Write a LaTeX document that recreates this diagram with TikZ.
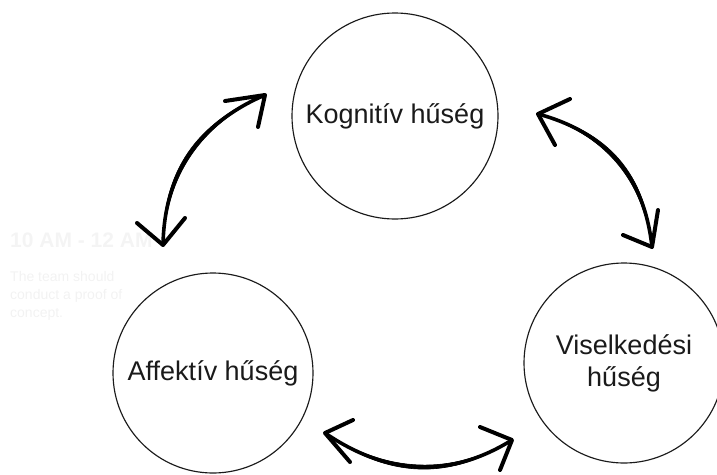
\documentclass[tikz,border=0pt]{standalone}
\usepackage{fontspec}
\setmainfont{Liberation Sans}
\definecolor{ink}{HTML}{1A1A1A}
\definecolor{ghost}{HTML}{F4F4F4}
\definecolor{ghostb}{HTML}{F2F2F2}
\begin{document}
\begin{tikzpicture}[x=1pt,y=-1pt,
  bubble/.style={circle,draw=ink,line width=1.15pt,text=ink,inner sep=0pt,
    font=\fontsize{27}{32}\selectfont,align=center},
  shaft/.style={fill=black,draw=black,line width=0.6pt,line join=round},
  spine/.style={draw=black,line width=3.6pt,line cap=round},
  headstroke/.style={draw=black,line width=4pt,line cap=round,line join=round},
  ghosthead/.style={text=ghost,font=\bfseries\fontsize{21}{25}\selectfont,anchor=base west,inner sep=0pt},
  ghostbody/.style={text=ghostb,font=\fontsize{14}{18}\selectfont,anchor=base west,inner sep=0pt}]
\useasboundingbox (0,0) rectangle (717,474);

% faint background texts
\node[ghosthead] (gh) at (10,247) {10 AM - 12 AM};
\node[ghostbody] (gb1) at (10,281) {The team should};
\node[ghostbody] (gb2) at (10,299) {conduct a proof of};
\node[ghostbody] (gb3) at (10,317) {concept.};

% circles
\node[bubble,minimum size=206pt] (kog) at (395,116) {Kognitív hűség};
\node[bubble,minimum size=200pt] (aff) at (213,373) {Affektív hűség};
\node[bubble,minimum size=200pt] (vis) at (624,363) {Viselkedési\\hűség};

% arrow tips
\coordinate (a1s) at (163,245);
\coordinate (a1e) at (265,95);
\coordinate (a2s) at (538,114);
\coordinate (a2e) at (652,247);
\coordinate (a3s) at (325,433);
\coordinate (a3e) at (512,440);

% arrow 1 (Affektiv <-> Kognitiv)
\path[shaft] (a1s) .. controls (162.1,172.2) and (196.1,122.2) .. (a1e)
  .. controls (200.5,125.2) and (166.5,175.2) .. (a1s) -- cycle;
\path[spine] (a1s) .. controls (164.3,173.7) and (198.3,123.7) .. (a1e);
\path[headstroke] (225,101) -- (a1e) -- (258,127);
\path[headstroke] (137,223) -- (a1s) -- (185,218);

% arrow 2 (Kognitiv <-> Viselkedesi)
\path[shaft] (a2s) .. controls (608.5,130.5) and (646.5,174.9) .. (a2e)
  .. controls (642.4,178.5) and (604.4,134.1) .. (a2s) -- cycle;
\path[spine] (a2s) .. controls (606.4,132.3) and (644.4,176.7) .. (a2e);
\path[headstroke] (570,99) -- (a2s) -- (555,145);
\path[headstroke] (623,235) -- (a2e) -- (658,210);

% arrow 3 (Affektiv <-> Viselkedesi)
\path[shaft] (a3s) .. controls (387.9,478.7) and (450.2,481) .. (a3e)
  .. controls (450.4,475.6) and (388.1,473.3) .. (a3s) -- cycle;
\path[spine] (a3s) .. controls (388,476) and (450.3,478.3) .. (a3e);
\path[headstroke] (353,420) -- (a3s) -- (350,462);
\path[headstroke] (480,427) -- (a3e) -- (500,470);
\end{tikzpicture}
\end{document}
